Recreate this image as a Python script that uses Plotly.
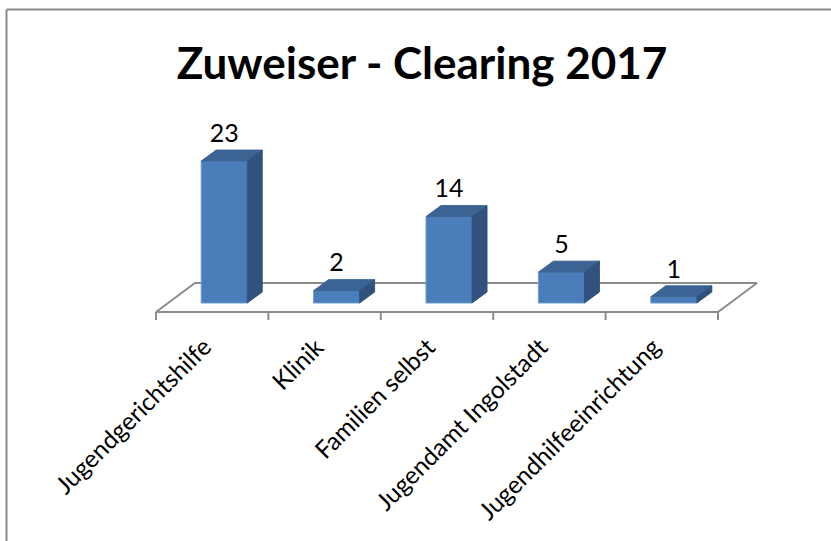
import plotly.graph_objects as go

# ---- data ----
categories = ["Jugendgerichtshilfe", "Klinik", "Familien selbst",
              "Jugendamt Ingolstadt", "Jugendhilfeeinrichtung"]
values = [23, 2, 14, 5, 1]
title_text = "Zuweiser - Clearing 2017"

# ---- geometry / style constants (axis units) ----
W, H = 831, 541
SX = 112.4          # px per category
SY = 6.17           # px per value unit
X_LEFT_PX = 156     # px of first category boundary
Y_ZERO_PX = 303     # px of value 0 at bar front plane

x_min = -0.5 - X_LEFT_PX / SX
x_max = x_min + W / SX
y_max = Y_ZERO_PX / SY
y_min = y_max - H / SY

bar_w = 46 / SX
bar_shift = 12 / SX          # bar front plane offset into floor depth
bdx, bdy = 15 / SX, 11 / SY  # bar depth
fdx, fdy = 39 / SX, 29 / SY  # floor depth
floor_y = -9 / SY
tick_len = 8 / SY

front_col = "#4A7EBB"
top_col = "#3B6494"
side_col = "#30527D"
edge_col = "#6E9AD0"
line_col = "#8C8C8C"
font_family = "Lato, 'Open Sans', sans-serif"

n = len(categories)
fig = go.Figure()

# floor
fx0, fx1 = -0.5, n - 0.5
fig.add_trace(go.Scatter(
    x=[fx0, fx1, fx1 + fdx, fx0 + fdx, fx0],
    y=[floor_y, floor_y, floor_y + fdy, floor_y + fdy, floor_y],
    mode="lines", line=dict(color=line_col, width=2),
    hoverinfo="skip", showlegend=False))

# ticks
tx, ty = [], []
for k in range(n + 1):
    tx += [k - 0.5, k - 0.5, None]
    ty += [floor_y, floor_y - tick_len, None]
fig.add_trace(go.Scatter(x=tx, y=ty, mode="lines",
                         line=dict(color=line_col, width=2),
                         hoverinfo="skip", showlegend=False))

# bars: front, top, side faces
for i, v in enumerate(values):
    xl = i + bar_shift - bar_w / 2
    xr = i + bar_shift + bar_w / 2
    fig.add_trace(go.Scatter(
        x=[xl, xr, xr, xl, xl], y=[0, 0, v, v, 0],
        fill="toself", fillcolor=front_col, mode="lines",
        line=dict(color=edge_col, width=1),
        hoverinfo="skip", showlegend=False))
    fig.add_trace(go.Scatter(
        x=[xl, xr, xr + bdx, xl + bdx, xl], y=[v, v, v + bdy, v + bdy, v],
        fill="toself", fillcolor=top_col, mode="lines",
        line=dict(color=top_col, width=1),
        hoverinfo="skip", showlegend=False))
    fig.add_trace(go.Scatter(
        x=[xr, xr + bdx, xr + bdx, xr, xr], y=[0, bdy, v + bdy, v, 0],
        fill="toself", fillcolor=side_col, mode="lines",
        line=dict(color=side_col, width=1),
        hoverinfo="skip", showlegend=False))

# value labels
fig.add_trace(go.Scatter(
    x=[i + bar_shift for i in range(n)],
    y=[v + bdy + 2 / SY for v in values],
    mode="text", text=[str(v) for v in values],
    textposition="top center",
    textfont=dict(family=font_family, size=25, color="black"),
    hoverinfo="skip", showlegend=False))

# category labels
for i, c in enumerate(categories):
    fig.add_annotation(
        x=i + 7 / SX, y=floor_y - 17 / SY, text=c, showarrow=False,
        textangle=-45, xanchor="right", yanchor="top",
        font=dict(family=font_family, size=24.5, color="black"))

# outer frame (left and top edges visible)
fig.add_shape(type="line", xref="paper", yref="paper",
              x0=6.5 / W, x1=1.01, y0=1 - 9.5 / H, y1=1 - 9.5 / H,
              line=dict(color="#8A8A8A", width=2))
fig.add_shape(type="line", xref="paper", yref="paper",
              x0=6.5 / W, x1=6.5 / W, y0=-0.01, y1=1 - 9.5 / H,
              line=dict(color="#8A8A8A", width=2))

fig.update_layout(
    width=W, height=H,
    margin=dict(l=0, r=0, t=0, b=0),
    paper_bgcolor="white", plot_bgcolor="white",
    title=dict(text="<b>" + title_text + "</b>", x=422 / W, xanchor="center",
               y=1 - 64 / H, yanchor="middle", yref="paper",
               font=dict(family=font_family, size=44, color="black")),
    xaxis=dict(range=[x_min, x_max], visible=False, fixedrange=True),
    yaxis=dict(range=[y_min, y_max], visible=False, fixedrange=True),
)

fig.write_html("out.html")
